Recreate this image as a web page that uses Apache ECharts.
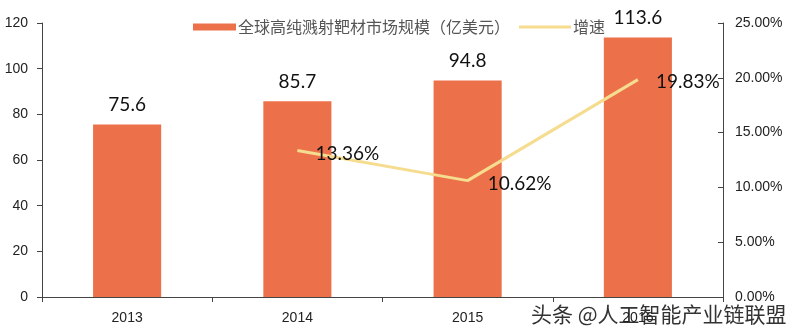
<!DOCTYPE html>
<html><head><meta charset="utf-8">
<script src="https://cdn.jsdelivr.net/npm/echarts@6/dist/echarts.min.js"></script>
<style>html,body{margin:0;padding:0;background:#fff}#c{width:800px;height:334px}</style>
</head><body><div id="c"></div>
<script>
const categories = ['2013','2014','2015','2016'];
const marketSize = [75.6, 85.7, 94.8, 113.6];
const growth = [null, 13.36, 10.62, 19.83];
const leftTicks = [0, 20, 40, 60, 80, 100, 120];
const rightTicks = [0, 5, 10, 15, 20, 25];
const barName = '全球高纯溅射靶材市场规模（亿美元）';
const lineName = '增速';
const watermark = '头条 @人工智能产业链联盟';

const lineOffsets = [null, [14, 3], [16, 3], [14, 2]];
const chart = echarts.init(document.getElementById('c'));
chart.setOption({
  animation: false,
  grid: {left: 42, right: 77, top: 23, bottom: 37},
  legend: [
    {data: [barName], left: 188, top: 14, itemWidth: 43, itemHeight: 7, icon: 'rect',
     textStyle: {fontSize: 16, color: '#555', fontFamily: 'Noto Sans CJK SC', padding: [0, 0, 0, -3]}},
    {data: [lineName], left: 514, top: 14, itemWidth: 52, itemHeight: 3, icon: 'rect',
     textStyle: {fontSize: 16, color: '#555', fontFamily: 'Noto Sans CJK SC', padding: [0, 0, 0, -3]}}
  ],
  xAxis: {
    type: 'category', data: categories,
    axisLine: {lineStyle: {color: '#444'}},
    axisTick: {show: true, alignWithLabel: false, length: 5, lineStyle: {color: '#444'}},
    axisLabel: {fontSize: 14, color: '#222', margin: 14, fontFamily: 'Liberation Sans'}
  },
  yAxis: [
    {type: 'value', min: leftTicks[0], max: leftTicks[leftTicks.length-1], interval: 20,
     splitLine: {show: false},
     axisLine: {show: true, lineStyle: {color: '#444'}},
     axisTick: {show: true, length: 5, lineStyle: {color: '#444'}},
     axisLabel: {fontSize: 14, color: '#222', margin: 14, fontFamily: 'Liberation Sans'}},
    {type: 'value', min: rightTicks[0], max: rightTicks[rightTicks.length-1], interval: 5,
     splitLine: {show: false},
     axisLine: {show: true, lineStyle: {color: '#444'}},
     axisTick: {show: true, inside: true, length: 5, lineStyle: {color: '#444'}},
     axisLabel: {fontSize: 14, color: '#222', margin: 12, fontFamily: 'Liberation Sans',
       formatter: v => v.toFixed(2) + '%'}}
  ],
  series: [
    {name: barName, type: 'bar', data: marketSize, barWidth: '40%',
     itemStyle: {color: '#EC714B'},
     label: {show: true, position: 'top', distance: 10, fontSize: 19, color: '#111',
       fontFamily: 'Lato'}},
    {name: lineName, type: 'line', yAxisIndex: 1, showSymbol: true, symbol: 'circle', symbolSize: 0,
     lineStyle: {color: '#F5DC8E', width: 3},
     itemStyle: {color: '#F5DC8E'},
     data: growth.map((v, i) => v == null ? null : {
       value: v,
       label: {show: true, position: 'right', distance: 4, offset: lineOffsets[i],
         formatter: p => p.value.toFixed(2) + '%', fontSize: 19, color: '#111', fontFamily: 'Lato'}
     })}
  ],
  graphic: [
    {type: 'text', left: 530, top: 303, style: {text: watermark, fontSize: 21,
      fill: '#333', stroke: '#fff', lineWidth: 2, fontFamily: 'Noto Sans CJK SC'}}
  ]
});
</script></body></html>
